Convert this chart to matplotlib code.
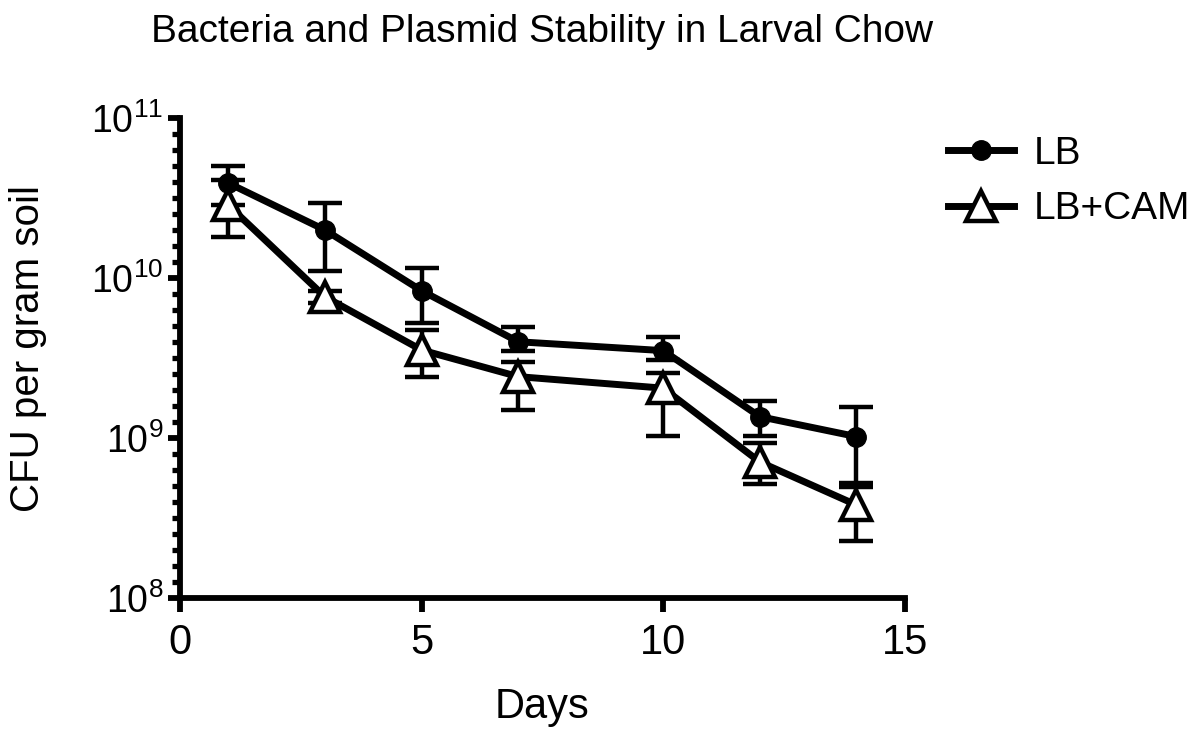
import numpy as np
import matplotlib
matplotlib.use("Agg")
import matplotlib.pyplot as plt
from matplotlib.ticker import FixedLocator, FixedFormatter, NullFormatter
from matplotlib.lines import Line2D

plt.rcParams['font.family'] = ['Liberation Sans', 'DejaVu Sans']
plt.rcParams['mathtext.fontset'] = 'custom'
plt.rcParams['mathtext.rm'] = 'Liberation Sans'

# data
days = [1, 3, 5, 7, 10, 12, 14]
lb_mean = [3.93e10, 2.0e10, 8.34e9, 4.0e9, 3.52e9, 1.36e9, 1.02e9]
lb_hi = [5.0e10, 2.94e10, 1.155e10, 4.97e9, 4.30e9, 1.71e9, 1.57e9]
lb_lo = [2.86e10, 1.107e10, 5.24e9, 3.52e9, 3.07e9, 1.03e9, 5.21e8]
cam_mean = [2.86e10, 7.64e9, 3.55e9, 2.42e9, 2.05e9, 7.08e8, 3.81e8]
cam_hi = [4.10e10, 8.3e9, 4.73e9, 3.0e9, 2.56e9, 9.33e8, 4.92e8]
cam_lo = [1.80e10, 7.0e9, 2.42e9, 1.50e9, 1.03e9, 5.16e8, 2.28e8]

xticks = [0, 5, 10, 15]
ydecades = [8, 9, 10, 11]

fig = plt.figure(figsize=(12, 7.3), dpi=100)
ax = fig.add_axes([0.15, 0.181, 0.604, 0.657])

def yerr(mean, lo, hi):
    mean = np.array(mean)
    return [mean - np.array(lo), np.array(hi) - mean]

ax.errorbar(days, lb_mean, yerr=yerr(lb_mean, lb_lo, lb_hi), color='black',
            linewidth=5, marker='o', markersize=14, elinewidth=3.2,
            capsize=12, capthick=3.2, zorder=3, clip_on=False)
ax.errorbar(days, cam_mean, yerr=yerr(cam_mean, cam_lo, cam_hi), color='black',
            linewidth=5, marker='^', markersize=21, markerfacecolor='white',
            markeredgecolor='black', markeredgewidth=3.2, elinewidth=3.2,
            capsize=12, capthick=3.2, zorder=3, clip_on=False)

ax.set_yscale('log')
ax.set_xlim(0, 15)
ax.set_ylim(1e8, 1e11)

# axes look
for s in ['top', 'right']:
    ax.spines[s].set_visible(False)
for s in ['left', 'bottom']:
    ax.spines[s].set_linewidth(4.2)

ax.xaxis.set_major_locator(FixedLocator(xticks))
ax.set_xticklabels([str(t) for t in xticks])
ax.tick_params(axis='x', which='major', length=10, width=4.2, labelsize=30, pad=8)

ax.yaxis.set_major_locator(FixedLocator([10.0 ** d for d in ydecades]))
ax.yaxis.set_major_formatter(FixedFormatter([r'$\mathregular{10^{%d}}$' % d for d in ydecades]))
minor = [10.0 ** (d + j / 10) for d in ydecades[:-1] for j in range(1, 10)]
ax.yaxis.set_minor_locator(FixedLocator(minor))
ax.yaxis.set_minor_formatter(NullFormatter())
ax.tick_params(axis='y', which='major', length=9, width=4.2, labelsize=27, pad=3)
ax.tick_params(axis='y', which='minor', length=6, width=3.8)

ax.set_ylabel('CFU per gram soil', fontsize=29)
ax.yaxis.set_label_coords(-0.183, 0.52)
fig.text(0.452, 0.016, 'Days', fontsize=30, ha='center', va='baseline')
fig.text(0.452, 0.956, 'Bacteria and Plasmid Stability in Larval Chow',
         fontsize=28, ha='center', va='center')

handles = [
    Line2D([], [], color='black', linewidth=5, marker='o', markersize=14),
    Line2D([], [], color='black', linewidth=5, marker='^', markersize=21,
           markerfacecolor='white', markeredgewidth=3.2),
]
fig.legend(handles, ['LB', 'LB+CAM'], loc='upper left', bbox_to_anchor=(0.777, 0.835),
           frameon=False, fontsize=28, handlelength=1.7, labelspacing=0.5,
           handletextpad=0.5, borderaxespad=0)

fig.savefig('out.png', dpi=100)
